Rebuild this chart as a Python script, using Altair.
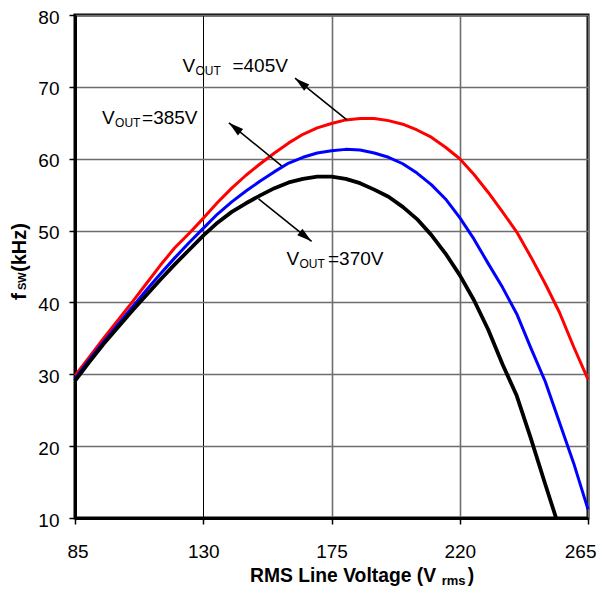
import math
import altair as alt
import pandas as pd

# ---------------- data ----------------
x_common = [85, 90, 95, 100, 105, 110, 115, 120, 125, 130, 135, 140, 145, 150, 155,
            160, 165, 170, 175, 180, 185, 190, 195, 200, 205, 210, 215, 220, 225,
            230, 235, 240, 245, 250, 255, 260, 265]

f_405 = [29.8, 32.4, 35.0, 37.5, 40.0, 42.6, 45.2, 47.6, 49.6, 51.7, 53.9, 55.9, 57.7,
         59.3, 60.8, 62.2, 63.4, 64.3, 64.9, 65.4, 65.6, 65.6, 65.3, 64.8, 64.0, 63.0,
         61.6, 60.0, 57.8, 55.3, 52.6, 49.8, 46.3, 42.6, 38.6, 33.8, 29.3]

f_385 = [29.4, 32.0, 34.5, 36.9, 39.3, 41.7, 44.0, 46.2, 48.3, 50.3, 52.3, 54.0, 55.5,
         56.9, 58.2, 59.4, 60.2, 60.8, 61.1, 61.3, 61.2, 60.8, 60.2, 59.3, 58.0, 56.4,
         54.4, 51.8, 48.8, 45.4, 42.1, 38.4, 33.6, 29.0, 23.3, 17.6, 11.2]

x_370 = [85, 90, 95, 100, 105, 110, 115, 120, 125, 130, 135, 140, 145, 150, 155,
         160, 165, 170, 175, 180, 185, 190, 195, 200, 205, 210, 215, 220, 225,
         230, 235, 240, 245, 250, 253.8]
f_370 = [29.1, 31.7, 34.2, 36.5, 38.8, 41.0, 43.2, 45.3, 47.3, 49.3, 51.1, 52.6, 53.8,
         54.9, 55.9, 56.7, 57.2, 57.5, 57.5, 57.2, 56.6, 55.7, 54.7, 53.3, 51.6, 49.4,
         46.8, 43.8, 40.3, 36.2, 31.4, 27.0, 21.0, 14.7, 10.0]

x_ticks = [85, 130, 175, 220, 265]
y_ticks = [10, 20, 30, 40, 50, 60, 70, 80]

# annotations: arrows (tail on curve -> tip) and labels
arrow_x1 = [180.4, 157.5, 149.4]
arrow_y1 = [65.4, 59.0, 54.4]
arrow_x2 = [162.2, 139.0, 168.0]
arrow_y2 = [71.2, 65.0, 48.5]

label_main = ["V", "V", "V"]
label_sub = ["OUT", "OUT", "OUT"]
label_rest = ["=405V", "=385V", "=370V"]
label_x = [122.7, 94.5, 159.2]
label_y = [72.0, 64.8, 45.2]

# ---------------- layout ----------------
W, H = 513, 503
FONT = "Liberation Sans, Arial, Helvetica, sans-serif"
XDOM = [85, 265]
YDOM = [10, 80]
REST_GAP = [50, 40, 41.5]   # pixel gap from "V" to the "=..." part of each label

df405 = pd.DataFrame({"v": x_common, "f": f_405})
df385 = pd.DataFrame({"v": x_common, "f": f_385})
df370 = pd.DataFrame({"v": x_370, "f": f_370})

# arrow head orientation in screen space
px_x = W / (XDOM[1] - XDOM[0])
px_y = H / (YDOM[1] - YDOM[0])
angles = []
for a, b, c, d in zip(arrow_x1, arrow_y1, arrow_x2, arrow_y2):
    dx = (c - a) * px_x
    dy = -(d - b) * px_y
    angles.append(math.degrees(math.atan2(dx, -dy)) % 360)
df_arrow = pd.DataFrame({"x1": arrow_x1, "y1": arrow_y1, "x2": arrow_x2,
                         "y2": arrow_y2, "ang": angles})
df_lab = pd.DataFrame({"x": label_x, "y": label_y, "m": label_main,
                       "s": label_sub, "r": label_rest})

grid_color = {"condition": {"test": "datum.value === 130", "value": "#000000"},
              "value": "#6e6e6e"}
grid_width = {"condition": {"test": "datum.value === 130", "value": 1},
              "value": 1.6}

xaxis = alt.Axis(values=x_ticks, title=None, grid=True, gridColor=grid_color,
                 gridWidth=grid_width, labelFontSize=19, labelFont=FONT,
                 labelColor="black", tickColor="black", tickSize=6, tickWidth=1.5,
                 labelPadding=18, domainColor="black", domainWidth=3,
                 labelFlush=True, labelFlushOffset=8)
yaxis = alt.Axis(values=y_ticks, title=None, grid=True, gridColor="#6e6e6e",
                 gridWidth=1.6, labelFontSize=19, labelFont=FONT, labelColor="black",
                 tickColor="black", tickSize=6, tickWidth=1.5, labelPadding=10,
                 domainColor="black", domainWidth=3, labelOffset=2)

xs = alt.Scale(domain=XDOM, nice=False, zero=False)
ys = alt.Scale(domain=YDOM, nice=False, zero=False)


def line(df, color, width):
    return alt.Chart(df).mark_line(color=color, strokeWidth=width,
                                   strokeJoin="round").encode(
        x=alt.X("v:Q", scale=xs, axis=xaxis),
        y=alt.Y("f:Q", scale=ys, axis=yaxis),
        order="v:Q",
    )


l405 = line(df405, "#ff0000", 3)
l385 = line(df385, "#0000ff", 3)
l370 = line(df370, "#000000", 3.8)

arrows = alt.Chart(df_arrow).mark_rule(color="black", strokeWidth=1.6).encode(
    x=alt.X("x1:Q", scale=xs, axis=xaxis), y=alt.Y("y1:Q", scale=ys, axis=yaxis),
    x2="x2:Q", y2="y2:Q")

heads = alt.Chart(df_arrow).mark_point(
    shape="M0,0L0.55,2L-0.55,2Z", filled=True, color="black", size=225,
    opacity=1, strokeWidth=0).encode(
    x=alt.X("x2:Q", scale=xs, axis=xaxis), y=alt.Y("y2:Q", scale=ys, axis=yaxis),
    angle=alt.Angle("ang:Q", scale=None))


def lab(df, field, size, dx, dy):
    return alt.Chart(df).mark_text(
        align="left", baseline="alphabetic", font=FONT, fontSize=size,
        color="black", dx=dx, dy=dy).encode(
        x=alt.X("x:Q", scale=xs, axis=xaxis), y=alt.Y("y:Q", scale=ys, axis=yaxis),
        text=f"{field}:N")


labels = lab(df_lab, "m", 19, 0, 0) + lab(df_lab, "s", 12, 13, 3)
for i, gap in enumerate(REST_GAP):
    labels = labels + lab(df_lab.iloc[[i]], "r", 19, gap, 0)

# axis titles with subscripts
def title_piece(txt, size, xpix, ypix, dx=0, dy=0, angle=0):
    return alt.Chart(pd.DataFrame({"t": [txt]})).mark_text(
        align="left", baseline="alphabetic", font=FONT, fontSize=size,
        fontWeight="bold", color="black", dx=dx, dy=dy, angle=angle).encode(
        x=alt.value(xpix), y=alt.value(ypix), text="t:N")


xt_x, xt_y = 175, 567
x_title = (title_piece("RMS Line Voltage (V", 19.3, xt_x, xt_y)
           + title_piece("rms", 13, xt_x, xt_y, dx=191.7, dy=2.5)
           + title_piece(")", 19.3, xt_x, xt_y, dx=217.7))

yt_x, yt_y = -49, 285
y_title = (title_piece("f", 21, yt_x, yt_y, angle=270)
           + title_piece("SW", 11, yt_x, yt_y, dx=10, angle=270)
           + title_piece("(kHz)", 20, yt_x, yt_y, dx=28, angle=270))

chart = alt.layer(l405, l385, l370, arrows, heads, labels, x_title, y_title).properties(
    width=W, height=H,
    autosize=alt.AutoSizeParams(type="none"),
    padding={"left": 67, "top": 7, "right": 9, "bottom": 69},
    background="white",
).configure_view(stroke="black", strokeWidth=3)

chart.save("out.html", embed_options={"renderer": "svg", "actions": False})
